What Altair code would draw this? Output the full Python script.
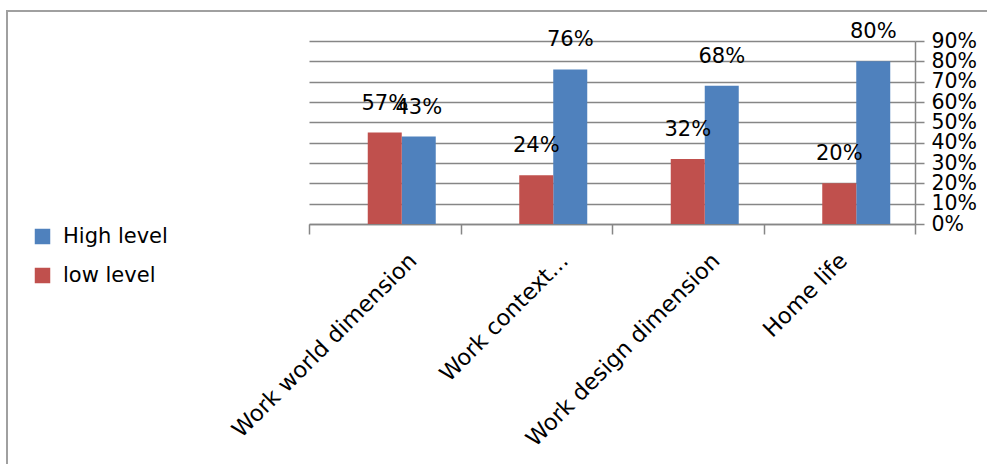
import altair as alt
import pandas as pd

categories = ["Work world dimension", "Work context...", "Work design dimension", "Home life"]
series_names = ["High level", "low level"]
slot_order = ["(blank)", "low level", "High level"]
high_values = [43, 76, 68, 80]
low_values = [45, 24, 32, 20]
high_labels = ["43%", "76%", "68%", "80%"]
low_labels = ["57%", "24%", "32%", "20%"]
y_ticks = [0, 10, 20, 30, 40, 50, 60, 70, 80, 90]

rows = []
for c, v, l in zip(categories, high_values, high_labels):
    rows.append({"category": c, "series": "High level", "value": v, "label": l})
for c, v, l in zip(categories, low_values, low_labels):
    rows.append({"category": c, "series": "low level", "value": v, "label": l})
df = pd.DataFrame(rows)

FONT = "DejaVu Sans"
GRAY = "#868686"
W, H = 606, 183

x_enc = alt.X(
    "category:N",
    sort=categories,
    scale=alt.Scale(paddingInner=0, paddingOuter=0),
    axis=alt.Axis(
        title=None,
        labelAngle=-45,
        labelAlign="right",
        labelBaseline="top",
        labelFont=FONT,
        labelFontSize=22.5,
        labelColor="black",
        labelPadding=15,
        labelLimit=0,
        labelOffset={"condition": {"test": "datum.value === 'Home life'", "value": -4}, "value": 20},
        tickBand="extent",
        tickSize=10,
        tickColor=GRAY,
        tickWidth=1.5,
        domainColor=GRAY,
        domainWidth=1.5,
        grid=False,
        labelOverlap=False,
    ),
)
xoff_enc = alt.XOffset(
    "series:N",
    scale=alt.Scale(domain=slot_order, paddingInner=0, paddingOuter=0.728),
)
y_enc = alt.Y(
    "value:Q",
    scale=alt.Scale(domain=[0, 90], nice=False),
    axis=alt.Axis(
        title=None,
        orient="right",
        values=y_ticks,
        labelExpr="datum.value + '%'",
        labelFont=FONT,
        labelFontSize=20.5,
        labelColor="black",
        labelPadding=7,
        labelOverlap=False,
        labelBaseline="middle",
        tickSize=9,
        tickColor=GRAY,
        tickWidth=1.5,
        domainColor=GRAY,
        domainWidth=1.5,
        grid=True,
        gridColor=GRAY,
        gridWidth=1.5,
    ),
)

base = alt.Chart(df)

bars = base.mark_bar().encode(
    x=x_enc,
    xOffset=xoff_enc,
    y=y_enc,
    color=alt.Color(
        "series:N",
        scale=alt.Scale(domain=series_names, range=["#4F81BD", "#C0504D"]),
        legend=alt.Legend(
            title=None,
            orient="none",
            legendX=-277,
            legendY=185,
            symbolType="square",
            symbolSize=240,
            symbolStrokeWidth=0,
            symbolOpacity=1,
            labelFont=FONT,
            labelFontSize=21,
            labelColor="black",
            labelOffset=10,
            rowPadding=17,
        ),
    ),
)

texts = base.mark_text(dy=-29, font=FONT, fontSize=21, color="black", baseline="middle").encode(
    x=x_enc,
    xOffset=xoff_enc,
    y=y_enc,
    text="label:N",
)

one = alt.Data(values=[{"k": 1}])
frame_top = alt.Chart(one).mark_rule(color="#A0A0A0", strokeWidth=2).encode(
    x=alt.value(-302), x2=alt.value(700), y=alt.value(-30)
)
frame_left = alt.Chart(one).mark_rule(color="#A0A0A0", strokeWidth=2).encode(
    x=alt.value(-302), y=alt.value(-31), y2=alt.value(430)
)

chart = alt.layer(bars, texts, frame_top, frame_left).properties(
    width=W,
    height=H,
    autosize=alt.AutoSizeParams(type="none"),
    padding={"left": 309, "top": 41, "right": 72, "bottom": 240},
    background="white",
).configure_view(stroke=None)

chart.save("out.html", embed_options={"renderer": "svg", "actions": False})
